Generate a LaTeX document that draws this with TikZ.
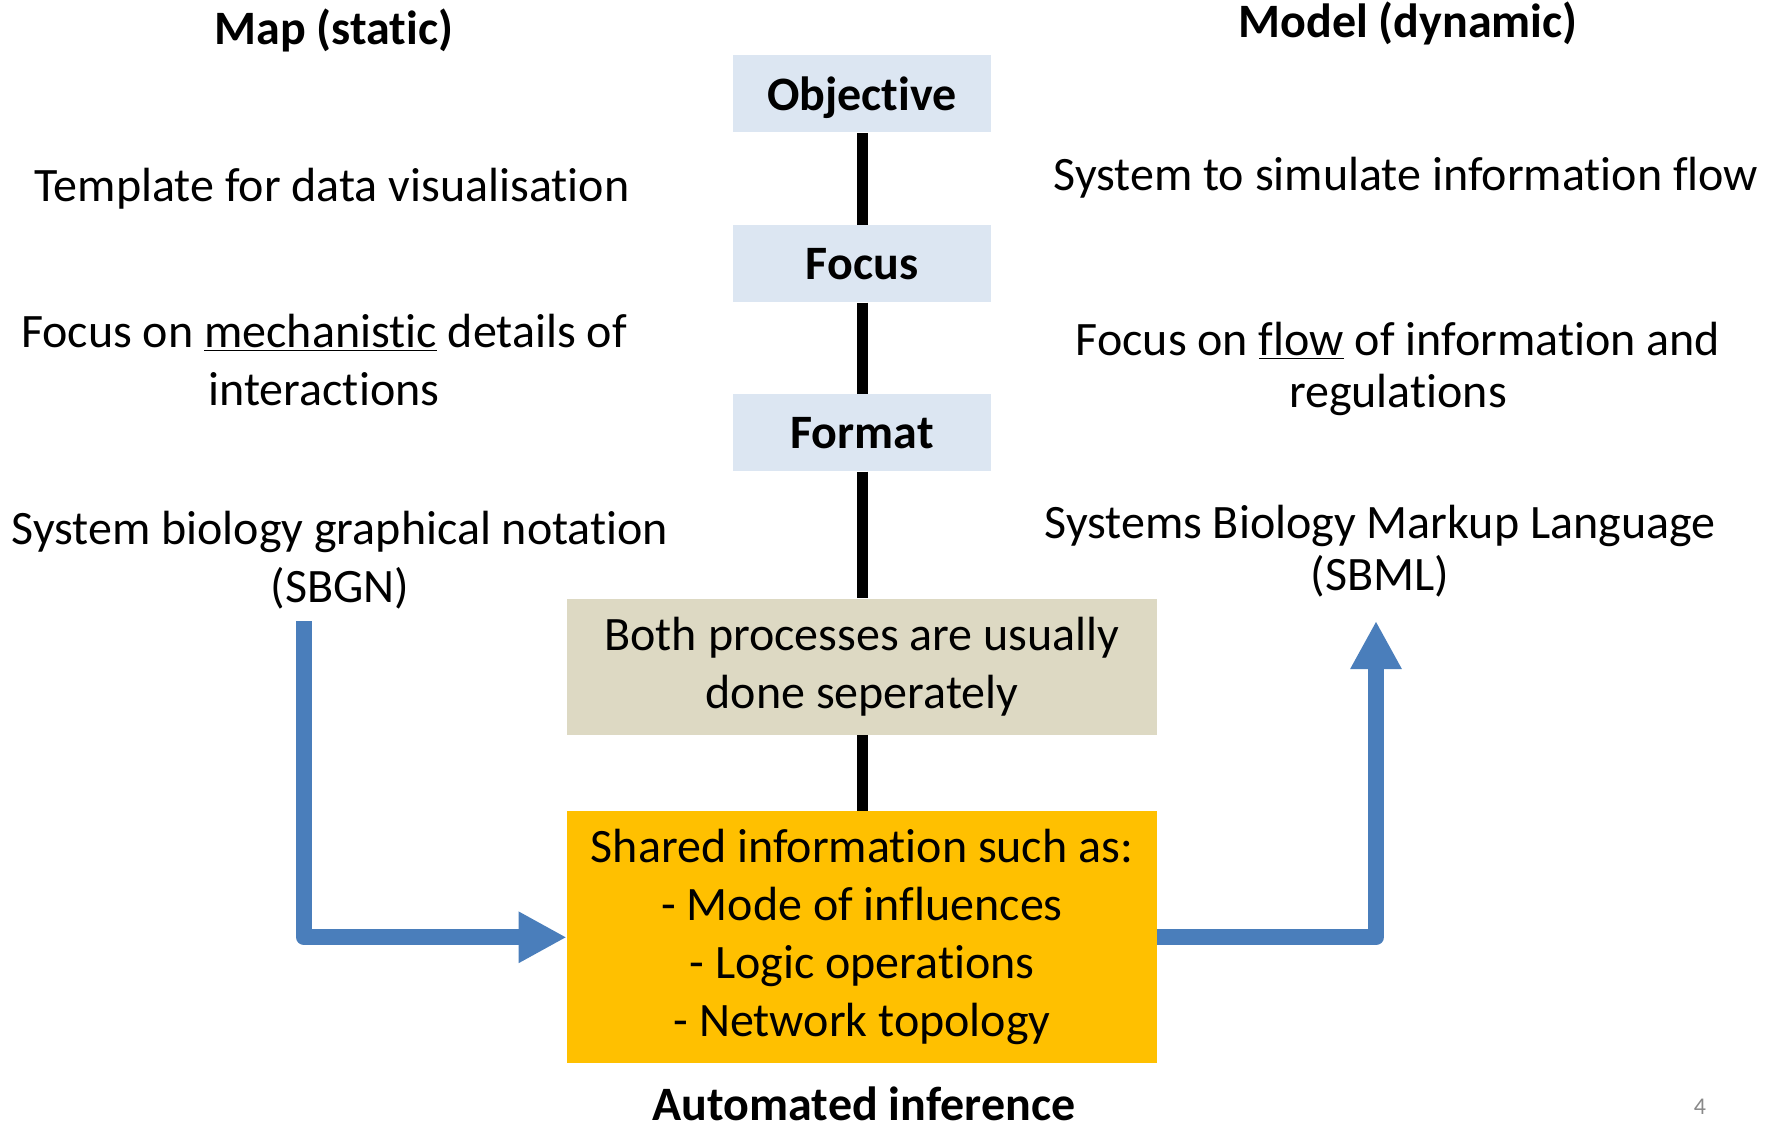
\documentclass[tikz,border=0pt]{standalone}
\usepackage{fontspec}
\setmainfont{Carlito}[Ligatures=NoCommon]
\usepackage{tikz}
\usetikzlibrary{arrows.meta,calc,positioning}
\definecolor{stageblue}{HTML}{DCE6F2}
\definecolor{notetan}{HTML}{DDD9C3}
\definecolor{sharedgold}{HTML}{FFC000}
\definecolor{flowblue}{HTML}{4A7EBB}
\definecolor{pagegrey}{HTML}{898989}
\tikzset{
	big text/.style={font=\fontsize{24}{29}\selectfont, align=center, inner sep=0pt},
	tight text/.style={big text, font=\fontsize{24}{26}\selectfont},
	head text/.style={big text, font=\fontsize{24}{29}\selectfont\bfseries},
	stage box/.style={head text, fill=stageblue, text depth=0pt,
		minimum width=129pt, minimum height=38.5pt},
	note box/.style={big text, fill=notetan, minimum width=295pt, minimum height=68pt},
	shared box/.style={big text, fill=sharedgold, minimum width=295pt, minimum height=126pt},
	stage link/.style={line width=5.5pt, black},
	flow arrow/.style={line width=8pt, flowblue, line join=round,
		-{Triangle[length=24pt,width=24pt]}}
}

\begin{document}
\begin{tikzpicture}[x=0.5pt,y=-0.5pt]
      \useasboundingbox (0,0) rectangle (1777,1128);
      \node [head text] (map) at (334,30) {Map (static)};
      \node [head text] (model) at (1408,23) {Model (dynamic)};
      \node [stage box] (obj) at (862,94) {Objective};
      \node [stage box, below=46pt of obj] (focus) {Focus};
      \node [stage box, below=45.5pt of focus] (format) {Format};
      \node [note box, below=63.3pt of format] (both) {Both processes are usually\\done seperately};
      \node [shared box, below=38pt of both] (shared) {Shared information such as:\\- Mode of influences\\- Logic operations\\- Network topology};
      \node [head text] (auto) at (864,1104) {Automated inference};
      \node [big text] (tmpl) at (332,189) {Template for data visualisation};
      \node [big text] (mech) at (324,360) {Focus on \underline{mechanistic} details of\\interactions};
      \node [big text] (sbgn) at (340,560) {System biology graphical notation\\(SBGN)};
      \node [big text] (sim) at (1406,178) {System to simulate information flow};
      \node [tight text] (flow) at (1398,369) {Focus on \underline{flow} of information and\\regulations};
      \node [tight text] (sbml) at (1380,551) {Systems Biology Markup Language\\(SBML)};
      \node [font=\fontsize{12}{14}\selectfont, text=pagegrey] (page) at (1700,1107) {4};
      \coordinate (sbgn foot) at (304,621);
      \coordinate (sbml foot) at (1376,621);
      \draw [stage link] (obj) -- (focus);
      \draw [stage link] (focus) -- (format);
      \draw [stage link] (format) -- (both);
      \draw [stage link] (both) -- (shared);
      \draw [flow arrow] (sbgn foot) |- (shared.west);
      \draw [flow arrow] (shared.east) -| (sbml foot);
   \end{tikzpicture}
\end{document}
